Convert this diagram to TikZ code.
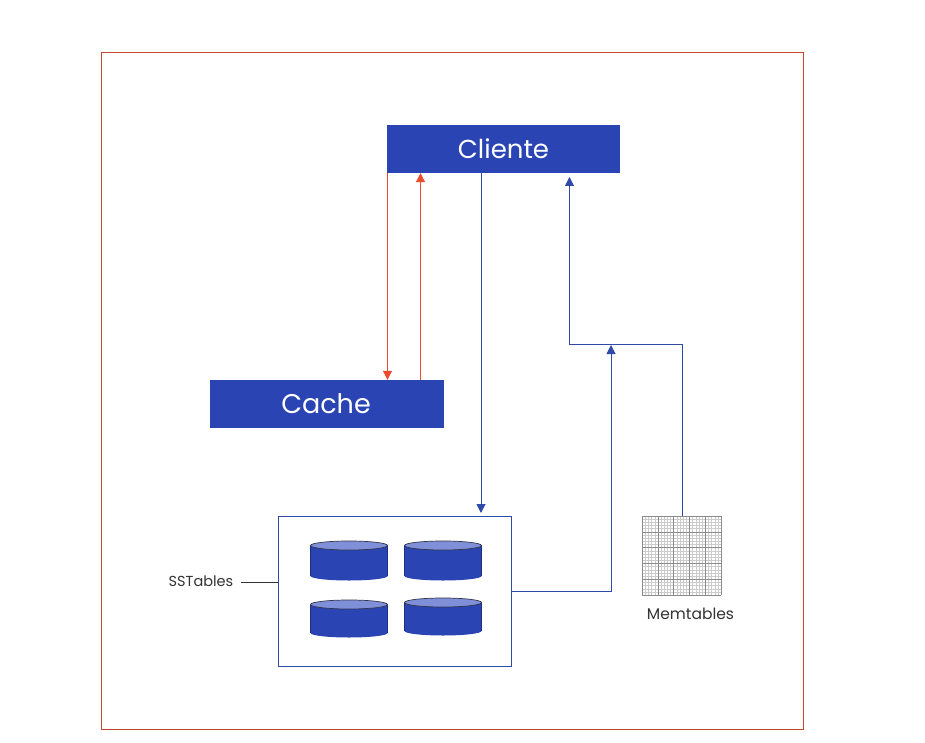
\documentclass[tikz,border=0pt]{standalone}
\usepackage{fontspec}
\setmainfont{Poppins}
\usetikzlibrary{arrows.meta}
\definecolor{boxblue}{HTML}{2A44B4}
\definecolor{linkblue}{HTML}{2F4AA8}
\definecolor{linkred}{HTML}{EE4A2E}
\definecolor{framered}{HTML}{C4482E}
\definecolor{lidblue}{HTML}{8090D8}
\definecolor{ink}{HTML}{333333}
\tikzset{
  x=1pt,y=-1pt,
  titlebox/.style={fill=boxblue,draw=none,text=white,minimum width=233.5pt,minimum height=48pt,inner sep=0pt,font=\fontsize{26}{30}\selectfont},
  bluelink/.style={draw=linkblue,line width=1pt,-{Triangle[length=9pt,width=9pt]}},
  redlink/.style={draw=linkred,line width=1pt,-{Triangle[length=9pt,width=9pt]}},
  caption/.style={text=ink,inner sep=0pt,font=\fontsize{14.5}{17}\selectfont},
}
\newcommand{\drum}[3]{% left x, top centre y, bottom centre y
  \fill[boxblue] (#1,#2) -- (#1,#3) arc[start angle=180,end angle=360,x radius=38.5pt,y radius=4.5pt] -- (#1+77,#2) -- cycle;
  \draw[boxblue!70!black,line width=0.5pt] (#1,#2) -- (#1,#3) (#1+77,#2) -- (#1+77,#3);
  \draw[fill=lidblue,draw=ink!80!boxblue,line width=0.7pt] (#1+38.5,#2) ellipse[x radius=38.5pt,y radius=4.5pt];
}
\begin{document}
\begin{tikzpicture}
\useasboundingbox (0,0) rectangle (925,743);
\fill[white] (0,0) rectangle (925,743);
\draw[framered,line width=1pt] (101.5,53) rectangle (803,729);
\node[titlebox] (cliente) at (503.5,149) {Cliente};
\node[titlebox,font=\fontsize{27}{30}\selectfont] (cache) at (327,404) {\kern-2pt Cache};
\node[draw=linkblue,line width=1pt,minimum width=233pt,minimum height=150pt,inner sep=0pt] (sst) at (394.5,591) {};
\drum{310.5}{545.5}{576}
\drum{404.5}{545.5}{576}
\drum{310.5}{604.5}{633}
\drum{404.5}{602.5}{631}
% memtable grid
\foreach \i in {0,...,25} {
  \draw[black!20,line width=0.3pt] (642+\i*3.16,516) -- (642+\i*3.16,595);
  \draw[black!20,line width=0.3pt] (642,516+\i*3.16) -- (721,516+\i*3.16);
}
\foreach \i in {0,...,5} {
  \draw[black!45,line width=0.5pt] (642+\i*15.8,516) -- (642+\i*15.8,595);
  \draw[black!45,line width=0.5pt] (642,516+\i*15.8) -- (721,516+\i*15.8);
}
\node[minimum width=79pt,minimum height=79pt,inner sep=0pt] (mem) at (681.5,555.5) {};
\node[caption] (ssl) at (201,581) {SSTables};
\node[caption,font=\fontsize{15.5}{17}\selectfont] (mel) at (690.5,614) {Memtables};
\coordinate (l1) at (241,582);
\draw[ink,line width=0.9pt] (l1) -- (l1 -| sst.west);
% red links
\coordinate (r1) at (387.5,173);
\coordinate (r2) at (420.5,380);
\draw[redlink] (r1) -- (r1 |- cache.north);
\draw[redlink] (r2) -- (r2 |- cliente.south);
% blue links
\coordinate (b1) at (481,173);
\coordinate (b2) at (481,513);
\draw[bluelink] (b1) -- (b2);
\coordinate (s0) at (0,591);
\coordinate (s1) at (s0 -| sst.east);
\coordinate (j1) at (611,345);
\coordinate (m1) at (682,516);
\coordinate (j2) at (682,344.5);
\coordinate (j3) at (569.5,344.5);
\coordinate (t1) at (569.5,177);
\draw[bluelink] (s1) -| (j1);
\draw[bluelink] (m1) -- (j2) -- (j3) -- (t1);
\end{tikzpicture}
\end{document}
